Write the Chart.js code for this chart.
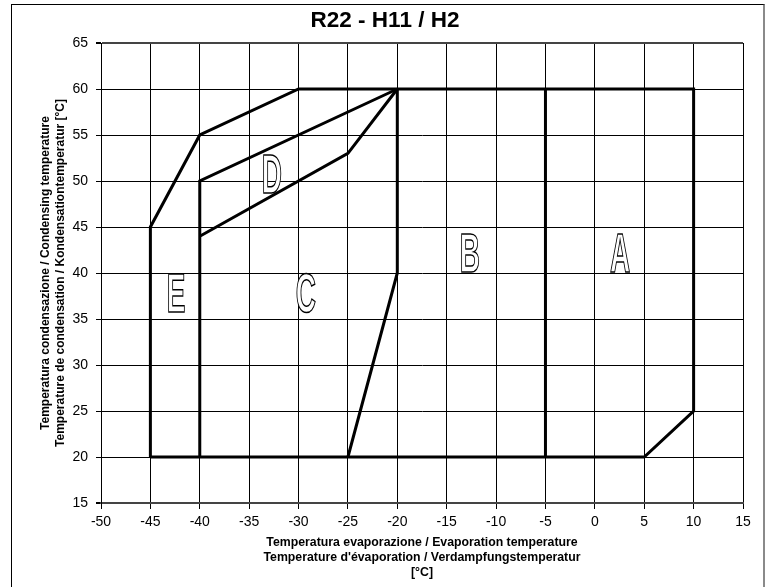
<!DOCTYPE html>
<html>
<head>
<meta charset="utf-8">
<script src="https://cdn.jsdelivr.net/npm/chart.js@4.4.1/dist/chart.umd.min.js"></script>
<style>
    body { margin: 0; background: #fff; }
    #wrap { position: relative; width: 768px; height: 587px; overflow: hidden; }
    #frame { position: absolute; left: 11px; top: 4px; width: 751px; height: 620px;
             border: 1px solid #000; border-right: 2px solid #8a8a8a; pointer-events: none; }
    canvas { position: absolute; left: 0; top: 0; }
</style>
</head>
<body>
<div id="wrap">
    <canvas id="envelope" width="768" height="587"></canvas>
    <div id="frame"></div>
</div>
<script>
// Axis ticks
const xTickValues = [-50, -45, -40, -35, -30, -25, -20, -15, -10, -5, 0, 5, 10, 15];
const yTickValues = [15, 20, 25, 30, 35, 40, 45, 50, 55, 60, 65];

// Envelope outlines (evaporation temp / condensing temp)
const outerX = [-45, -45, -40, -30, 10, 10, 5, -45];
const outerY = [20, 45, 55, 60, 60, 25, 20, 20];
const dUpperX = [-40, -40, -20];
const dUpperY = [20, 50, 60];
const dLowerX = [-40, -25, -20];
const dLowerY = [44, 53, 60];
const cRightX = [-25, -20, -20];
const cRightY = [20, 40, 60];
const abSplitX = [-5, -5];
const abSplitY = [20, 60];

// Zone letters
const zoneNames = ['A', 'B', 'C', 'D', 'E'];
const zoneX = [2.55, -12.65, -29.25, -32.7, -42.4];
const zoneY = [40.1, 40.1, 35.8, 48.7, 35.8];

const FONT = "'Liberation Sans', Arial, sans-serif";

function toPoints(xs, ys) {
    return xs.map((x, i) => ({ x: x, y: ys[i] }));
}

function outline(xs, ys) {
    return {
        data: toPoints(xs, ys),
        showLine: true,
        borderColor: '#000',
        borderWidth: 3,
        pointRadius: 0,
        fill: false,
        tension: 0
    };
}

// draws the outlined zone letters
const zoneLetters = {
    id: 'zoneLetters',
    afterDatasetsDraw(chart) {
        const ctx = chart.ctx;
        const xs = chart.scales.x, ys = chart.scales.y;
        ctx.save();
        ctx.font = 'bold 56px ' + FONT;
        ctx.textAlign = 'center';
        ctx.textBaseline = 'alphabetic';
        zoneNames.forEach((t, i) => {
            const px = xs.getPixelForValue(zoneX[i]);
            const py = ys.getPixelForValue(zoneY[i]);
            ctx.save();
            ctx.translate(px, py);
            ctx.scale(0.5, 1);
            ctx.fillStyle = '#fff';
            ctx.fillText(t, 0, 0);
            ctx.lineWidth = 1.6;
            ctx.strokeStyle = '#000';
            ctx.strokeText(t, 0, 0);
            ctx.restore();
        });
        ctx.restore();
    }
};

new Chart(document.getElementById('envelope'), {
    type: 'scatter',
    data: {
        datasets: [
            outline(outerX, outerY),
            outline(dUpperX, dUpperY),
            outline(dLowerX, dLowerY),
            outline(cRightX, cRightY),
            outline(abSplitX, abSplitY)
        ]
    },
    options: {
        responsive: false,
        animation: false,
        layout: { padding: { left: 27, right: 25, top: 0, bottom: 0 } },
        plugins: {
            legend: { display: false },
            tooltip: { enabled: false },
            title: {
                display: true,
                text: 'R22 - H11 / H2',
                color: '#000',
                font: { family: FONT, size: 22.5, weight: 'bold', lineHeight: 1.2 },
                padding: { top: 7, bottom: 9 }
            }
        },
        scales: {
            x: {
                type: 'linear',
                min: -50,
                max: 15,
                afterBuildTicks: s => { s.ticks = xTickValues.map(v => ({ value: v })); },
                afterFit: s => { s.height = 84; },
                grid: {
                    color: '#000',
                    lineWidth: 1,
                    drawTicks: true,
                    tickLength: 6,
                    tickColor: '#000'
                },
                border: { color: '#444', width: 2 },
                ticks: {
                    color: '#000',
                    padding: 5,
                    maxRotation: 0,
                    font: { family: FONT, size: 14 }
                },
                title: {
                    display: true,
                    text: ['Temperatura evaporazione / Evaporation temperature',
                           "Temperature d'évaporation / Verdampfungstemperatur",
                           '[°C]'],
                    color: '#000',
                    font: { family: FONT, size: 12.3, weight: 'bold', lineHeight: 1.22 },
                    padding: { top: 0, bottom: 7 }
                }
            },
            y: {
                type: 'linear',
                min: 15,
                max: 65,
                afterBuildTicks: s => { s.ticks = yTickValues.map(v => ({ value: v })); },
                afterFit: s => { s.width = 74; },
                grid: {
                    color: ctx => (ctx.tick && (ctx.tick.value === 65 || ctx.tick.value === 15)) ? '#444' : '#000',
                    lineWidth: ctx => (ctx.tick && (ctx.tick.value === 65 || ctx.tick.value === 15)) ? 2 : 1,
                    drawTicks: true,
                    tickLength: 5,
                    tickColor: '#000'
                },
                border: { color: '#000', width: 1 },
                ticks: {
                    color: '#000',
                    padding: 8,
                    font: { family: FONT, size: 14 }
                },
                title: {
                    display: true,
                    text: ['Temperatura condensazione / Condensing temperature',
                           'Temperature de condensation / Kondensationtemperatur [°C]'],
                    color: '#000',
                    font: { family: FONT, size: 12, weight: 'bold', lineHeight: 1.25 },
                    padding: { top: 11, bottom: 4 }
                }
            }
        }
    },
    plugins: [zoneLetters]
});
</script>
</body>
</html>
